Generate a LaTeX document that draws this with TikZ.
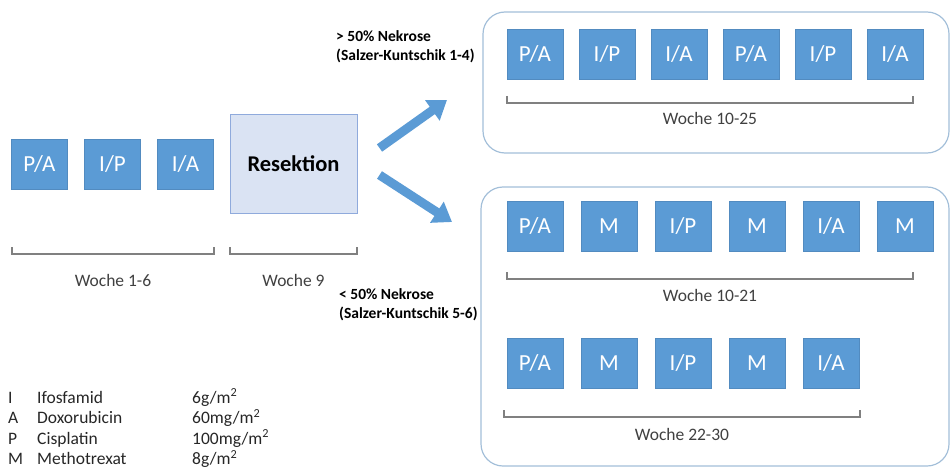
\documentclass[tikz,border=0pt]{standalone}
\usepackage{fontspec}
\setmainfont{Carlito}
\usetikzlibrary{arrows.meta}

\definecolor{chemoblue}{HTML}{5B9BD5}
\definecolor{resfill}{HTML}{DAE3F3}
\definecolor{resline}{HTML}{8FAADC}
\definecolor{frameline}{HTML}{A3BFD9}
\definecolor{klammergray}{HTML}{808080}
\definecolor{textgray}{HTML}{404040}

\newcommand{\qm}{/m\textsuperscript{2}}

\tikzset{
	chemo/.style={fill=chemoblue, draw=chemoblue!90!black, line width=0.4pt, minimum width=56pt, minimum height=50pt, inner sep=0pt, text=white, font=\fontsize{23}{27}\selectfont},
	gruppe/.style={draw=frameline, line width=1.2pt, rounded corners=22pt},
	woche/.style={text=textgray, font=\fontsize{17.5}{21}\selectfont},
	nekrose/.style={align=left, anchor=west, inner sep=0pt, font=\bfseries\fontsize{15.5}{19}\selectfont},
	legende/.style={anchor=base west, inner sep=0pt, text=black!85, font=\fontsize{17.5}{21}\selectfont},
	pfeil/.style={draw=chemoblue, line width=9pt, -{Triangle[width=24pt,length=18pt]}}
}

\begin{document}
\begin{tikzpicture}[x=1pt,y=-1pt]
	\useasboundingbox (0,0) rectangle (952,468);
	\newcommand{\Klammer}[5]{%x1, x2, y, y Text, Text
		\draw[klammergray, line width=1.4pt] (#1,#3-7) -- (#1,#3) -- (#2,#3) -- (#2,#3-7);
		\node[woche] at ({(#1+#2)/2},#4) {#5};
	}
	% Woche 1-6
	\foreach \t [count=\i from 0] in {P/A,I/P,I/A}{
		\node[chemo] (l\i) at (39.5+73*\i,164.5) {\t};
	}
	\node[fill=resfill, draw=resline, line width=1pt, minimum width=127pt, minimum height=98pt, font=\bfseries\fontsize{22.5}{26}\selectfont] (res) at (293.5,164) {Resektion};
	\Klammer{12}{214}{254}{280}{Woche 1-6}
	\Klammer{230}{357}{254}{280}{Woche 9}
	% Pfeile
	\coordinate (oben) at (447,100);
	\coordinate (unten) at (452,222);
	\draw[pfeil] (res.east) ++(22,-16) -- (oben);
	\draw[pfeil] (res.east) ++(22,11) -- (unten);
	\node[nekrose] (gut) at (336,47) {> 50\% Nekrose\\(Salzer-Kuntschik 1-4)};
	\node[nekrose] (schlecht) at (339,304.5) {< 50\% Nekrose\\(Salzer-Kuntschik 5-6)};
	% >50% Nekrose
	\draw[gruppe] (483,12) rectangle (949,153);
	\foreach \t [count=\i from 0] in {P/A,I/P,I/A,P/A,I/P,I/A}{
		\node[chemo] (a\i) at (535+72*\i,54) {\t};
	}
	\Klammer{507}{913}{103}{118}{Woche 10-25}
	% <50% Nekrose
	\draw[gruppe] (481,187) rectangle (949,466);
	\foreach \t [count=\i from 0] in {P/A,M,I/P,M,I/A,M}{
		\node[chemo] (b\i) at (535+74*\i,226) {\t};
	}
	\Klammer{507}{913}{279}{295}{Woche 10-21}
	\foreach \t [count=\i from 0] in {P/A,M,I/P,M,I/A}{
		\node[chemo] (c\i) at (535+74*\i,363) {\t};
	}
	\Klammer{504}{860}{417}{434}{Woche 22-30}
	% Legende
	\foreach \k/\name/\dosis [count=\i from 0] in {I/Ifosfamid/6g\qm, A/Doxorubicin/60mg\qm, P/Cisplatin/100mg\qm, M/Methotrexat/8g\qm}{
		\node[legende] (k\i) at (8,403+20.5*\i) {\k};
		\node[legende] (n\i) at (37,403+20.5*\i) {\name};
		\node[legende] (d\i) at (192,403+20.5*\i) {\dosis};
	}
\end{tikzpicture}
\end{document}
